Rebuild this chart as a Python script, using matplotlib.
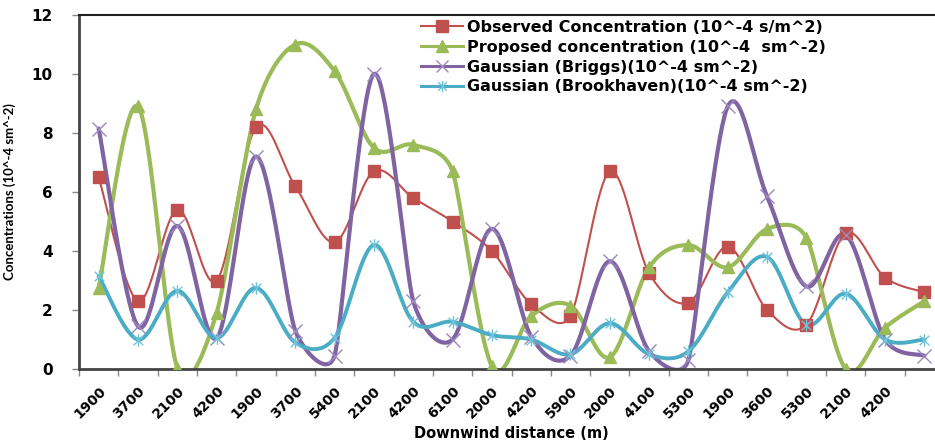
import numpy as np
import matplotlib
matplotlib.use("Agg")
import matplotlib.pyplot as plt
from matplotlib.path import Path

plt.rcParams['font.family'] = ['DejaVu Sans']
plt.rcParams['font.weight'] = 'bold'

# category labels (last category has no label in the source)
distances = ["1900", "3700", "2100", "4200", "1900", "3700", "5400", "2100", "4200", "6100", "2000",
             "4200", "5900", "2000", "4100", "5300", "1900", "3600", "5300", "2100", "4200", ""]

observed = [6.5, 2.3, 5.4, 3.0, 8.2, 6.2, 4.3, 6.7, 5.8, 5.0, 4.0,
            2.2, 1.8, 6.7, 3.25, 2.25, 4.15, 2.0, 1.5, 4.6, 3.1, 2.6]
proposed = [2.75, 8.9, 0.05, 1.9, 8.8, 11.0, 10.1, 7.5, 7.6, 6.7, 0.1,
            1.8, 2.15, 0.4, 3.45, 4.2, 3.45, 4.75, 4.45, 0.0, 1.4, 2.3]
briggs = [8.15, 1.45, 4.85, 1.05, 7.2, 1.3, 0.45, 10.0, 2.3, 1.0, 4.75,
          1.1, 0.45, 3.65, 0.6, 0.3, 8.9, 5.85, 2.8, 4.55, 1.0, 0.45]
brookhaven = [3.15, 1.0, 2.65, 1.05, 2.75, 0.9, 1.05, 4.2, 1.6, 1.6, 1.15,
              1.0, 0.5, 1.55, 0.5, 0.6, 2.6, 3.8, 1.5, 2.55, 1.0, 1.0]

labels = ["Observed Concentration (10^-4 s/m^2)",
          "Proposed concentration (10^-4  sm^-2)",
          "Gaussian (Briggs)(10^-4 sm^-2)",
          "Gaussian (Brookhaven)(10^-4 sm^-2)"]


def smooth(y, sx=39.3, sy=29.5, n=40):
    # Excel-like smoothed line: bezier through the points, control arms
    # (p[i+1]-p[i-1])*f with f capped so an arm never exceeds half a segment
    y = np.asarray(y, float)
    P = np.column_stack([np.arange(len(y)) * sx, y * sy])
    m = len(P)
    cin = np.zeros_like(P)
    cout = np.zeros_like(P)
    for i in range(m):
        a = P[i - 1] if i > 0 else P[i]
        b = P[i + 1] if i < m - 1 else P[i]
        T = b - a
        d01 = np.hypot(*(P[i] - a))
        d12 = np.hypot(*(b - P[i]))
        d02 = np.hypot(*T)
        f = 1 / 6
        if d02 > 0:
            if i > 0 and d01 / 2 < f * d02:
                f = d01 / (2 * d02)
            if i < m - 1 and d12 / 2 < f * d02:
                f = d12 / (2 * d02)
        cout[i] = P[i] + T * f
        cin[i] = P[i] - T * f
    t = np.linspace(0, 1, n)[:, None]
    out = []
    for i in range(m - 1):
        p0, p1, p2, p3 = P[i], cout[i], cin[i + 1], P[i + 1]
        out.append((1 - t) ** 3 * p0 + 3 * (1 - t) ** 2 * t * p1
                   + 3 * (1 - t) * t ** 2 * p2 + t ** 3 * p3)
    out = np.vstack(out)
    return out[:, 0] / sx, out[:, 1] / sy


star = Path([(-1, -1), (1, 1), (-1, 1), (1, -1), (0, -1.3), (0, 1.3)],
            [Path.MOVETO, Path.LINETO, Path.MOVETO, Path.LINETO, Path.MOVETO, Path.LINETO])

series = [
    (observed, '#C0504D', 1.5, 's', 9, '#C0504D'),
    (proposed, '#9BBB59', 3.0, '^', 9, '#9BBB59'),
    (briggs, '#8064A2', 3.0, 'x', 10, '#9C88C0'),
    (brookhaven, '#4BACC6', 2.8, star, 9, '#6EC3DA'),
]

fig = plt.figure(figsize=(9.35, 4.47), dpi=100)
W, H = 935, 447
ax = fig.add_axes([79 / W, 78 / H, (944 - 79) / W, (369 - 15) / H])

x = np.arange(len(distances))
handles = []
for (vals, col, lw, mk, ms, mcol), lab in zip(series, labels):
    sx, sy = smooth(vals)
    ax.plot(sx, sy, color=col, lw=lw, solid_capstyle='round', zorder=2)
    ax.plot(x, vals, ls='none', marker=mk, ms=ms, color=mcol,
            markeredgecolor=mcol, markeredgewidth=1.0, zorder=3)
    h, = ax.plot([], [], color=col, lw=min(lw, 2.2), marker=mk, ms=ms - 1,
                 markeredgecolor=mcol, markerfacecolor=mcol, markeredgewidth=1.0)
    handles.append(h)

ax.set_xlim(-0.5, len(distances) - 0.5)
ax.set_ylim(0, 12)
ax.set_yticks(range(0, 13, 2))
ax.set_xticks(np.arange(-0.5, len(distances), 1.0))
ax.set_xticks(x, minor=True)
ax.set_xticklabels([])
ax.set_xticklabels(distances, minor=True, rotation=45, ha='right', va='top',
                   rotation_mode='anchor', fontsize=10, fontweight='bold')
ax.tick_params(axis='x', which='minor', length=0, pad=11)
ax.tick_params(axis='x', which='major', length=5, width=1, color='#888888', direction='out')
ax.tick_params(axis='y', length=5, width=1, color='#888888', labelsize=11, pad=14)
for lab in ax.get_yticklabels():
    lab.set_fontweight('bold')

for s in ['left', 'bottom']:
    ax.spines[s].set_linewidth(2)
    ax.spines[s].set_color('#444444')
ax.spines['top'].set_linewidth(1.5)
ax.spines['top'].set_color('#222222')
ax.spines['right'].set_visible(False)

ax.set_ylabel("Concentrations (10^-4 sm^-2)", fontsize=9.5, fontweight='bold',
              family=['Lato', 'DejaVu Sans'])
ax.yaxis.set_label_coords(-63 / (944 - 79), 0.5)
ax.set_xlabel("Downwind distance (m)", fontsize=10.5, fontweight='bold')
ax.xaxis.set_label_coords((511 - 79) / (944 - 79), -(434 - 369) / (369 - 15))
ax.xaxis.label.set_va('center')

ax.legend(handles, labels, loc='upper left', bbox_to_anchor=(421 / W, 1 - 20 / H),
          bbox_transform=fig.transFigure, frameon=False,
          handlelength=2.6, handletextpad=0.3, labelspacing=0.3, borderpad=0,
          borderaxespad=0, prop={'weight': 'bold', 'size': 11.5})

fig.savefig("out.png", dpi=100)
